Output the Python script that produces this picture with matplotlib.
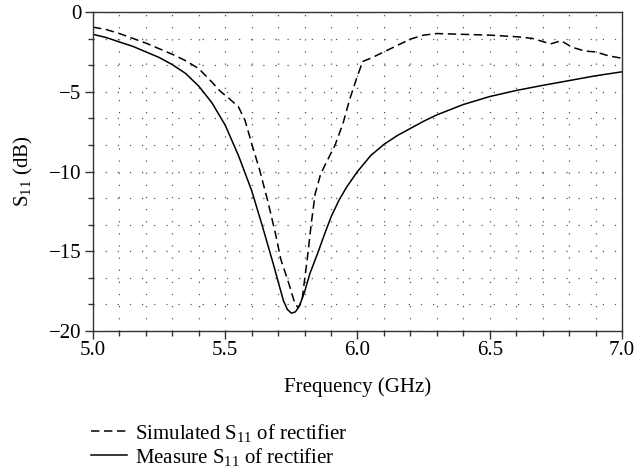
import matplotlib
matplotlib.use("Agg")
import matplotlib.pyplot as plt
from matplotlib.ticker import MultipleLocator

plt.rcParams['font.family'] = ['Liberation Serif', 'DejaVu Serif']
plt.rcParams['mathtext.fontset'] = 'stix'

# Measured S11 (solid)
meas_f = [5.00, 5.05, 5.10, 5.15, 5.20, 5.25, 5.30, 5.35, 5.40, 5.45, 5.50, 5.55,
          5.60, 5.64, 5.68, 5.70, 5.72, 5.735, 5.75, 5.765, 5.78, 5.80, 5.82, 5.85,
          5.875, 5.90, 5.93, 5.96, 6.00, 6.05, 6.10, 6.15, 6.20, 6.25, 6.30, 6.40,
          6.50, 6.60, 6.70, 6.80, 6.90, 7.00]
meas_s11 = [-1.40, -1.60, -1.88, -2.15, -2.50, -2.85, -3.30, -3.85, -4.65, -5.70, -7.10, -9.00,
            -11.20, -13.40, -15.70, -16.90, -18.10, -18.65, -18.88, -18.80, -18.45, -17.55, -16.40, -15.10,
            -13.95, -12.85, -11.80, -10.95, -10.00, -9.00, -8.30, -7.75, -7.30, -6.85, -6.45, -5.80,
            -5.30, -4.92, -4.60, -4.30, -4.00, -3.75]

# Simulated S11 (dashed)
sim_f = [5.00, 5.05, 5.10, 5.15, 5.20, 5.25, 5.30, 5.35, 5.40, 5.45, 5.48, 5.52, 5.55,
         5.575, 5.60, 5.63, 5.66, 5.69, 5.71, 5.74, 5.76, 5.775, 5.79, 5.81, 5.825,
         5.84, 5.86, 5.88, 5.915, 5.945, 5.97, 6.00, 6.02, 6.05, 6.10, 6.15, 6.20,
         6.25, 6.30, 6.40, 6.50, 6.60, 6.66, 6.70, 6.73, 6.77, 6.81, 6.86, 6.90, 6.95, 7.00]
sim_s11 = [-0.95, -1.10, -1.35, -1.65, -1.95, -2.30, -2.65, -3.05, -3.55, -4.40, -4.95, -5.50, -5.95,
           -6.80, -8.25, -9.90, -11.80, -13.90, -15.50, -17.00, -18.10, -18.55, -18.10, -15.50, -13.30,
           -11.40, -10.20, -9.50, -8.35, -7.00, -5.50, -4.00, -3.10, -2.90, -2.50, -2.10, -1.70,
           -1.45, -1.35, -1.40, -1.45, -1.55, -1.65, -1.85, -2.00, -1.80, -2.20, -2.45, -2.50, -2.75, -2.90]

fig = plt.figure(figsize=(6.34, 4.71), dpi=100, facecolor='white')
ax = fig.add_axes([0.1467, 0.2972, 0.8343, 0.6773])

ax.plot(sim_f, sim_s11, color='black', lw=1.1, linestyle=(0, (5.5, 3)),
        label='Simulated S$\\mathregular{_{11}}$ of rectifier')
ax.plot(meas_f, meas_s11, color='black', lw=1.1,
        label='Measure S$\\mathregular{_{11}}$ of rectifier')

ax.set_xlim(5.0, 7.0)
ax.set_ylim(-20, 0)
ax.xaxis.set_major_locator(MultipleLocator(0.5))
ax.xaxis.set_minor_locator(MultipleLocator(0.1))
ax.yaxis.set_major_locator(MultipleLocator(5))
ax.yaxis.set_minor_locator(MultipleLocator(5 / 3))
ax.set_xticklabels([f'{v:.1f}' for v in ax.get_xticks()])
ax.set_yticklabels([f'{int(v)}'.replace('-', '\u2212') for v in ax.get_yticks()])

ax.grid(which='both', color='#555555', lw=0.9, linestyle=(0, (1, 8.7)))
ax.tick_params(which='major', direction='out', length=5.5, width=1.0, labelsize=15, pad=2, color='#333333')
ax.tick_params(which='minor', direction='out', length=3.5, width=1.0, color='#333333')
ax.tick_params(axis='y', which='both', pad=3, left=True, right=False)
ax.tick_params(axis='x', which='both', top=False)
for s in ax.spines.values():
    s.set_linewidth(1.0)
    s.set_color('#333333')

ax.set_xlabel('Frequency (GHz)', fontsize=15, labelpad=12)
ax.set_ylabel('S$\\mathregular{_{11}}$ (dB)', fontsize=15, labelpad=10)

fig.legend(loc='upper left', bbox_to_anchor=(0.143, 0.105), frameon=False, fontsize=15,
           handlelength=1.75, handletextpad=0.4, labelspacing=0.1, borderpad=0, borderaxespad=0)

fig.savefig('out.png', dpi=100, facecolor='white')
